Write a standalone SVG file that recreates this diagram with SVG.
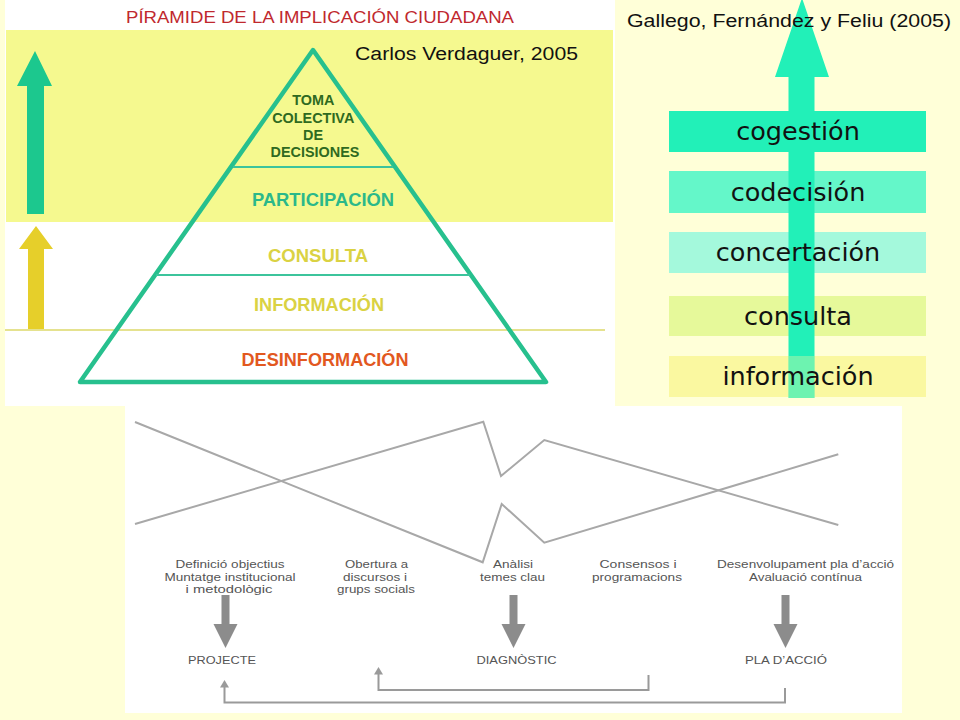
<svg xmlns="http://www.w3.org/2000/svg" width="960" height="720" viewBox="0 0 960 720">
<style>
  .sans { font-family: "Liberation Sans", Arial, sans-serif; }
  .lvl { font-family: "Liberation Sans", Arial, sans-serif; font-weight: bold; text-anchor: middle; }
  .bar { font-family: "DejaVu Sans", Verdana, sans-serif; font-size: 25.5px; fill: #111; text-anchor: middle; }
  .stage { font-family: "Liberation Sans", Arial, sans-serif; font-size: 11.5px; fill: #555; text-anchor: middle; }
  .divider { stroke: #3CC49C; stroke-width: 2; fill: none; }
  .zig { stroke: #A8A8A8; stroke-width: 2; fill: none; stroke-linejoin: miter; }
  .fb { stroke: #9A9A9A; stroke-width: 2; fill: none; }
  .garrow { fill: #8C8C8C; }
  .fbhead { fill: #9A9A9A; }
</style>

<!-- page background -->
<rect x="0" y="0" width="960" height="720" fill="#FFFFD8"/>

<!-- Pyramid panel -->
<g id="pyramid-panel">
  <rect x="5" y="0" width="610" height="406" fill="#FFFFFF"/>
  <rect x="6" y="30" width="607" height="192" fill="#F5F98F"/>
  <line x1="5" y1="330" x2="605" y2="330" stroke="#DCD86A" stroke-width="1.5"/>
  <text class="sans" x="320" y="23" font-size="17" fill="#C0282E" text-anchor="middle" textLength="388" lengthAdjust="spacingAndGlyphs">PÍRAMIDE  DE LA IMPLICACIÓN CIUDADANA</text>
  <text class="sans" x="466.5" y="60" font-size="18" fill="#111" text-anchor="middle" textLength="223" lengthAdjust="spacingAndGlyphs">Carlos Verdaguer, 2005</text>
</g>

<g id="left-arrows">
  <polygon id="arrow-green" points="35,51 52,86 44,86 44,214 27,214 27,86 17,86" fill="#1CC88E"/>
  <polygon id="arrow-yellow" points="36,226 53,249 44,249 44,329 28,329 28,249 19,249" fill="#E6CF2A"/>
</g>

<g id="pyramid">
  <polygon points="313,50 546,382 80,382" fill="none" stroke="#27C08E" stroke-width="4.5" stroke-linejoin="round"/>
  <line class="divider" x1="233" y1="167" x2="393" y2="167"/>
  <line class="divider" x1="156" y1="275" x2="470" y2="275"/>
</g>

<g id="level-toma">
  <text class="lvl" font-size="14.4" fill="#2F6A1F">
    <tspan x="315" y="105">TOMA</tspan>
    <tspan x="315" y="123">COLECTIVA</tspan>
    <tspan x="315" y="140">DE</tspan>
    <tspan x="315" y="157">DECISIONES</tspan>
  </text>
</g>
<g id="level-participacion">
  <text class="lvl" x="323" y="206" font-size="18" fill="#2BB88A" textLength="142" lengthAdjust="spacingAndGlyphs">PARTICIPACIÓN</text>
</g>
<g id="level-consulta">
  <text class="lvl" x="318" y="262" font-size="18" fill="#DAD243" textLength="100" lengthAdjust="spacingAndGlyphs">CONSULTA</text>
</g>
<g id="level-informacion">
  <text class="lvl" x="319" y="311" font-size="18" fill="#DAD243" textLength="130" lengthAdjust="spacingAndGlyphs">INFORMACIÓN</text>
</g>
<g id="level-desinformacion">
  <text class="lvl" x="325" y="366" font-size="18" fill="#E2581F" textLength="167" lengthAdjust="spacingAndGlyphs">DESINFORMACIÓN</text>
</g>

<!-- Right panel -->
<g id="bar-cogestion"><rect x="669" y="111" width="257" height="41" fill="#22F0B8"/></g>
<g id="bar-codecision"><rect x="669" y="171" width="257" height="42" fill="#64F7C9"/></g>
<g id="bar-concertacion"><rect x="669" y="232" width="257" height="41" fill="#A4F9DC"/></g>
<g id="bar-consulta"><rect x="669" y="296" width="257" height="40" fill="#E6F99A"/></g>
<g id="bar-informacion"><rect x="669" y="356" width="257" height="41" fill="#FAF8A0"/></g>

<g id="big-arrow">
  <polygon points="802,-2 829,77 814.5,77 814.5,398 788.5,398 788.5,77 775,77" fill="#22F0B8"/>
  <rect x="788.5" y="356" width="26" height="42" fill="#FAF8A0" opacity="0.35"/>
</g>

<g id="right-panel">
  <text class="sans" x="789" y="26.5" font-size="17.5" fill="#111" text-anchor="middle" textLength="324" lengthAdjust="spacingAndGlyphs">Gallego, Fernández y Feliu (2005)</text>
</g>

<g id="bar-labels">
  <text class="bar" x="798" y="140">cogestión</text>
  <text class="bar" x="798" y="200.5">codecisión</text>
  <text class="bar" x="798" y="261">concertación</text>
  <text class="bar" x="798" y="324.5">consulta</text>
  <text class="bar" x="798" y="385">información</text>
</g>

<!-- Bottom panel -->
<g id="process-panel">
  <rect x="125" y="406" width="777" height="307" fill="#FFFFFF"/>
</g>

<g id="stage-definicio">
  <text class="stage" x="230" y="568" textLength="109" lengthAdjust="spacingAndGlyphs">Definició objectius</text>
  <text class="stage" x="230" y="580.5" textLength="131" lengthAdjust="spacingAndGlyphs">Muntatge institucional</text>
  <text class="stage" x="229" y="593" textLength="87" lengthAdjust="spacingAndGlyphs">i metodològic</text>
</g>
<g id="stage-obertura">
  <text class="stage" x="376.5" y="568" textLength="63" lengthAdjust="spacingAndGlyphs">Obertura a</text>
  <text class="stage" x="375" y="580.5" textLength="64" lengthAdjust="spacingAndGlyphs">discursos i</text>
  <text class="stage" x="376" y="593" textLength="78" lengthAdjust="spacingAndGlyphs">grups socials</text>
</g>
<g id="stage-analisi">
  <text class="stage" x="513" y="568" textLength="40" lengthAdjust="spacingAndGlyphs">Anàlisi</text>
  <text class="stage" x="512.5" y="580.5" textLength="65" lengthAdjust="spacingAndGlyphs">temes clau</text>
</g>
<g id="stage-consensos">
  <text class="stage" x="638" y="568" textLength="77" lengthAdjust="spacingAndGlyphs">Consensos i</text>
  <text class="stage" x="637" y="580.5" textLength="90" lengthAdjust="spacingAndGlyphs">programacions</text>
</g>
<g id="stage-desenvolupament">
  <text class="stage" x="805.5" y="568" textLength="177" lengthAdjust="spacingAndGlyphs">Desenvolupament pla d’acció</text>
  <text class="stage" x="805.5" y="580.5" textLength="113" lengthAdjust="spacingAndGlyphs">Avaluació contínua</text>
</g>

<g id="node-projecte">
  <text class="stage" x="222" y="663.5" font-size="12" textLength="68" lengthAdjust="spacingAndGlyphs">PROJECTE</text>
</g>
<g id="node-diagnostic">
  <text class="stage" x="516.5" y="663.5" font-size="12" textLength="80" lengthAdjust="spacingAndGlyphs">DIAGNÒSTIC</text>
</g>
<g id="node-pla">
  <text class="stage" x="786" y="663.5" font-size="12" textLength="82" lengthAdjust="spacingAndGlyphs">PLA D’ACCIÓ</text>
</g>

<g id="connectors">
  <polyline class="zig" points="135,422 482.7,562.3 501.7,504 544.3,542.7 838.3,454.3"/>
  <polyline class="zig" points="135,524 483.3,421.7 501,476 544.3,440 838.3,525"/>
  <polygon class="garrow" points="221.5,595 229.5,595 229.5,624 237.5,624 225.5,648 213.5,624 221.5,624"/>
  <polygon class="garrow" points="509.5,595 517.5,595 517.5,624 525.5,624 513.5,648 501.5,624 509.5,624"/>
  <polygon class="garrow" points="781.5,595 789.5,595 789.5,624 797.5,624 785.5,648 773.5,624 781.5,624"/>
  <path class="fb" d="M648.5,675 V690 H378.5 V673"/>
  <polygon class="fbhead" points="378.5,667 383,674.5 374,674.5"/>
  <path class="fb" d="M785,688 V702.5 H224.5 V686"/>
  <polygon class="fbhead" points="224.5,680 229,687.5 220,687.5"/>
</g>
</svg>
